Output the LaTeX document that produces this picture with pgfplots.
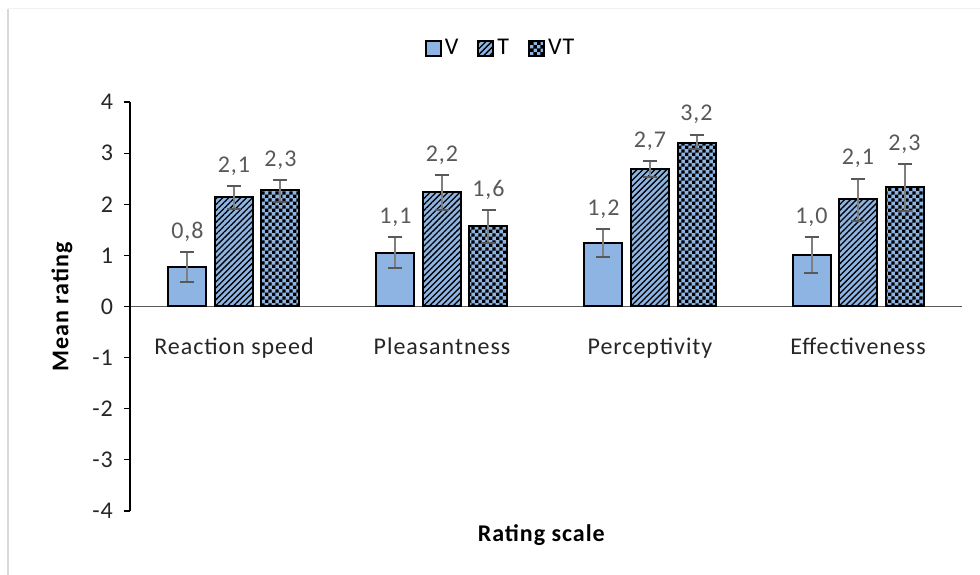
\documentclass[border=0pt]{standalone}
\usepackage{pgfplots}
\pgfplotsset{compat=1.18}
\usepackage{pgfplotstable}
\usetikzlibrary{patterns,patterns.meta}
\usepackage{fontspec}
\setmainfont{Carlito}[LetterSpace=4]

\definecolor{barblue}{HTML}{8DB4E2}
\definecolor{lblgray}{HTML}{595959}
\definecolor{errgray}{HTML}{7F7F7F}

\pgfdeclarepatternformonly{smallcheck}{\pgfpointorigin}{\pgfqpoint{3.4pt}{3.4pt}}{\pgfqpoint{3.4pt}{3.4pt}}{%
  \pgfpathrectangle{\pgfpointorigin}{\pgfqpoint{1.75pt}{1.75pt}}%
  \pgfpathrectangle{\pgfqpoint{1.7pt}{1.7pt}}{\pgfqpoint{1.75pt}{1.75pt}}%
  \pgfusepath{fill}}

\pgfplotstableread{
x y ep em lbl
0 0.77 0.30 0.29 0.8
1 1.05 0.30 0.30 1.1
2 1.24 0.27 0.28 1.2
3 1.00 0.35 0.35 1.0
}\dataV
\pgfplotstableread{
x y ep em lbl
0 2.14 0.21 0.24 2.1
1 2.24 0.33 0.36 2.2
2 2.69 0.16 0.16 2.7
3 2.10 0.40 0.42 2.1
}\dataT
\pgfplotstableread{
x y ep em lbl
0 2.27 0.20 0.23 2.3
1 1.57 0.31 0.33 1.6
2 3.20 0.16 0.12 3.2
3 2.34 0.45 0.47 2.3
}\dataVT

\begin{document}
\begin{tikzpicture}[font=\fontsize{12}{14}\selectfont]
\begin{axis}[
  scale only axis,
  width=416pt, height=204.5pt,
  xmin=-0.5, xmax=3.5, ymin=-4, ymax=4,
  axis x line*=middle, axis y line*=left,
  x axis line style={draw=black!65, line width=0.8pt},
  y axis line style={draw=black, line width=0.6pt},
  ytick={-4,...,4},
  xtick={0,1,2,3},
  xticklabels={Reaction speed, Pleasantness, Perceptivity, Effectiveness},
  x tick style={draw=none},
  y tick style={draw=black, line width=0.6pt},
  tick align=outside,
  major tick length=3pt,
  /pgf/number format/assume math mode=true,
  xticklabel style={yshift=-9pt, text=black!85},
  yticklabel style={xshift=-2pt, text=black!85},
  ylabel={\textbf{Mean rating}},
  xlabel={\textbf{Rating scale}},
  ylabel style={at={(axis description cs:-0.0817,0.5)}, anchor=center},
  xlabel style={at={(axis description cs:0.495,-0.0587)}, anchor=center},
  ybar=4.25pt, bar width=19pt,
  clip=false,
  legend style={at={(axis description cs:0.446,1.132)}, anchor=center,
    legend columns=-1, draw=none, fill=none,
    /tikz/every even column/.append style={column sep=8pt},
    nodes={inner sep=1.5pt}},
  legend image code/.code={\draw[#1] (0pt,-3.75pt) rectangle (7.5pt,3.75pt);},
  every axis plot/.append style={draw=black, line width=1pt},
  error bars/y dir=both, error bars/y explicit,
  error bars/error bar style={draw=errgray, line width=1pt},
  error bars/error mark options={rotate=90, mark size=3.5pt, draw=lblgray, line width=1pt},
  point meta=explicit,
  visualization depends on={\thisrow{ep} \as \ep},
  nodes near coords={\pgfmathprintnumber[assume math mode=true,use comma,fixed,fixed zerofill,precision=1]{\pgfplotspointmeta}},
  nodes near coords style={anchor=south, yshift={\ep*25.5625+1.5}, text=lblgray, font=\fontsize{12}{14}\selectfont},
]
\addplot[fill=barblue] table[x=x, y=y, y error plus=ep, y error minus=em, meta=lbl] {\dataV};
\addplot[fill=barblue, postaction={pattern={Lines[angle=45,distance=2.1pt,line width=0.65pt]}, pattern color=black}] table[x=x, y=y, y error plus=ep, y error minus=em, meta=lbl] {\dataT};
\addplot[fill=barblue, postaction={pattern=smallcheck, pattern color=black}] table[x=x, y=y, y error plus=ep, y error minus=em, meta=lbl] {\dataVT};
\legend{V, T, VT}
\coordinate (BL) at (rel axis cs:-0.15625,-0.1565);
\coordinate (TR) at (rel axis cs:1.02163,1.2494);
\draw[black!15, line width=1pt] (rel axis cs:-0.1472,1.2274) -- (rel axis cs:-0.1472,-0.1565);
\draw[black!5, line width=0.5pt] (rel axis cs:-0.1472,1.2274) -- (rel axis cs:1.02163,1.2274);
\end{axis}
\pgfresetboundingbox
\path (BL) rectangle (TR);
\end{tikzpicture}
\end{document}
